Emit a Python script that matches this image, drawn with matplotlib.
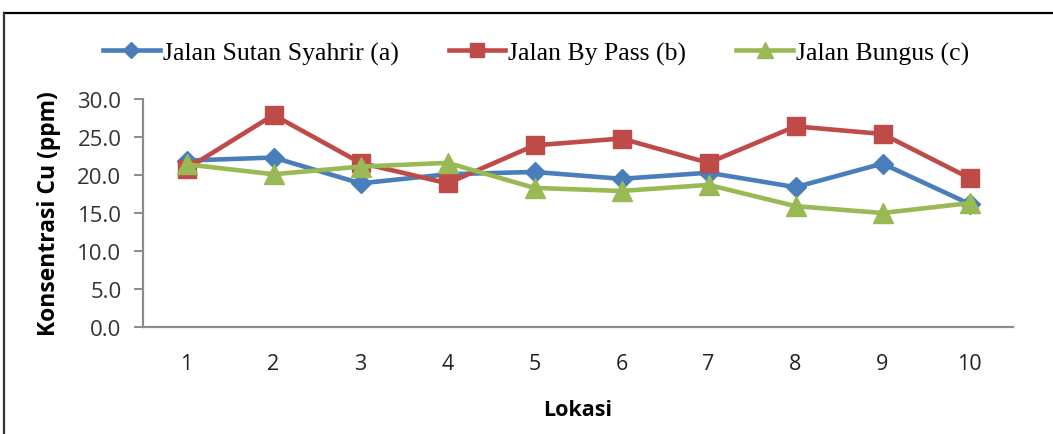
import matplotlib
matplotlib.use("Agg")
import matplotlib.pyplot as plt
from matplotlib.lines import Line2D

# Cu concentration per sampling location
lokasi = [1, 2, 3, 4, 5, 6, 7, 8, 9, 10]
sutan_syahrir = [21.9, 22.3, 18.9, 20.1, 20.4, 19.5, 20.3, 18.4, 21.5, 16.2]
by_pass = [20.8, 27.9, 21.6, 18.9, 23.9, 24.8, 21.6, 26.4, 25.4, 19.6]
bungus = [21.4, 20.1, 21.1, 21.6, 18.3, 17.9, 18.7, 15.9, 15.0, 16.3]
series_labels = ["Jalan Sutan Syahrir (a)", "Jalan By Pass (b)", "Jalan Bungus (c)"]
y_ticks = [0, 5, 10, 15, 20, 25, 30]

colors = ["#4A7EBB", "#BE4B48", "#98B954"]
markers = ["D", "s", "^"]
msizes = [10.5, 13.5, 14.5]

fig = plt.figure(figsize=(10.53, 4.35), dpi=100)
ax = fig.add_axes([143 / 1053, 1 - 328 / 435, 870 / 1053, 228 / 435])

for vals, c, m, ms, lab in zip([sutan_syahrir, by_pass, bungus], colors, markers, msizes, series_labels):
    ax.plot(lokasi, vals, color=c, lw=3.3, marker=m, markersize=ms,
            markerfacecolor=c, markeredgecolor=c, label=lab, solid_joinstyle="round")

ax.set_xlim(0.5, 10.5)
ax.set_ylim(0, 30)
ax.set_yticks(y_ticks)
ax.set_yticklabels([f"{v:.1f}" for v in y_ticks])
ax.set_xticks(lokasi)
ax.set_xticklabels([str(v) for v in lokasi])

sans = ["Open Sans", "DejaVu Sans"]
for t in ax.get_yticklabels():
    t.set_fontfamily(sans)
    t.set_fontsize(16)
    t.set_color("#333333")
for t in ax.get_xticklabels():
    t.set_fontfamily(sans)
    t.set_fontsize(15.5)
    t.set_color("#222222")

for s in ["top", "right"]:
    ax.spines[s].set_visible(False)
for s in ["left", "bottom"]:
    ax.spines[s].set_color("#8C8C8C")
    ax.spines[s].set_linewidth(1.6)
ax.tick_params(axis="y", length=6.5, width=1.4, color="#8C8C8C", pad=9)
ax.tick_params(axis="x", length=0, pad=19)

ax.set_ylabel("Konsentrasi Cu (ppm)", fontfamily=sans, fontsize=16.5, fontweight="bold", labelpad=12)
ax.set_xlabel("Lokasi", fontfamily=sans, fontsize=15.5, fontweight="bold", labelpad=18)

handles = [Line2D([], [], color=c, lw=3.3, marker=m, markersize=ms * 0.75,
                  markerfacecolor=c, markeredgecolor=c)
           for c, m, ms in zip(colors, markers, msizes)]
fig.legend(handles, series_labels, loc="center", bbox_to_anchor=(536 / 1053, 1 - 54 / 435),
           ncol=3, frameon=False, prop={"family": ["Liberation Serif", "DejaVu Serif"], "size": 18.5},
           handlelength=2.2, handletextpad=0.12, columnspacing=1.95)

# chart frame (top and left edges)
fig.add_artist(Line2D([4 / 1053, 1.0], [1 - 13.5 / 435, 1 - 13.5 / 435],
                      transform=fig.transFigure, color="black", lw=1.6))
fig.add_artist(Line2D([4 / 1053, 4 / 1053], [0, 1 - 13.5 / 435],
                      transform=fig.transFigure, color="#333333", lw=1.6))

fig.savefig("out.png", dpi=100, facecolor="white")
